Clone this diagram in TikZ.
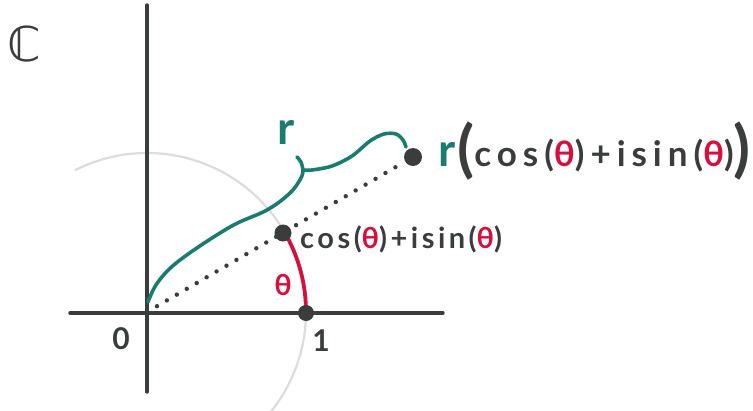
\documentclass[tikz,border=0pt]{standalone}
\usepackage{fontspec}
\setmainfont{Lato}
\newfontfamily\hand[LetterSpace=12,BoldFont={Lato Bold}]{Lato}
\newfontfamily\handwide[LetterSpace=17,BoldFont={Lato Bold}]{Lato}
\newfontfamily\dejavu{DejaVu Sans}
\definecolor{ink}{HTML}{3A3D3C}
\definecolor{tealink}{HTML}{1B7B6F}
\definecolor{redink}{HTML}{D4103E}
\definecolor{faint}{HTML}{DCDCDC}
\newcommand{\thr}{\textcolor{redink}{θ}}
\tikzset{
  axisline/.style={ink, line width=3.4pt, line cap=round},
  dotpt/.style={circle, fill=ink, inner sep=0pt, minimum size=#1},
  dottedray/.style={ink, line width=4.4pt, line cap=round, dash pattern=on 0pt off 11.5pt},
  bracepath/.style={tealink, line width=3.6pt, line cap=round, line join=round},
  anglearc/.style={redink, line width=3.8pt, line cap=round},
  unitcircle/.style={faint, line width=2.2pt},
  lbl/.style={inner sep=0pt, text=ink, font=\hand\bfseries\fontsize{29}{32}\selectfont}
}
\begin{document}
\begin{tikzpicture}[x=1pt,y=-1pt]
\useasboundingbox (0,0) rectangle (753,410);
\begin{scope}
\clip (0,0) rectangle (753,410);
\draw[unitcircle] plot[domain=-50:117, samples=80, smooth] ({147+159*cos(\x)},{312-159*sin(\x)});
\end{scope}
% axes
\coordinate (xl) at (70,313);
\coordinate (xr) at (443,313);
\coordinate (yt) at (147,5);
\coordinate (yb) at (147,392);
\coordinate (O) at (147,312);
\draw[axisline] (xl) -- (xr);
\draw[axisline] (yt) -- (yb);
% angle arc
\draw[anglearc] plot[domain=1:28, samples=30, smooth] ({147+159*cos(\x)},{312-159*sin(\x)});
% points
\node[dotpt=17pt] (P1) at (283,233) {};
\node[dotpt=18pt] (Pr) at (413,157) {};
\node[dotpt=16pt] (U) at (306,313) {};
% dotted ray
\draw[dottedray] (O) -- (Pr);
% brace
\draw[bracepath] plot[smooth, tension=0.6] coordinates {(148,302) (158,282) (180,260) (230,227) (267,210) (290,193) (301,178) (303,170)};
\draw[bracepath] plot[smooth, tension=0.6] coordinates {(297,157) (301,162) (303,170)};
\draw[bracepath] plot[smooth, tension=0.55] coordinates {(303,170) (312,170) (332,166) (352,156) (370,141) (384,134) (396,134) (403,140) (406,147)};
% labels
\node[inner sep=0pt, text=ink, font=\dejavu\fontsize{48}{50}\selectfont] (C) at (24,44) {ℂ};
\node[inner sep=0pt, text=tealink, font=\hand\bfseries\fontsize{46}{48}\selectfont, anchor=base] (rl) at (286,144) {r};
\node[lbl, anchor=base west] (zlbl) at (300,248) {cos(\thr)+isin(\thr)};
\node[inner sep=0pt, anchor=base west, text=ink] (rzlbl) at (438,166) {\hand\bfseries\fontsize{46}{48}\selectfont\textcolor{tealink}{r}\kern2pt\fontsize{62}{64}\selectfont\raisebox{-4pt}{(}\handwide\bfseries\fontsize{35}{36}\selectfont cos(\thr)+isin(\thr)\hand\bfseries\fontsize{62}{64}\selectfont\raisebox{-4pt}{)}};
\node[inner sep=0pt, text=redink, font=\hand\bfseries\fontsize{29}{30}\selectfont, anchor=base] (th) at (283,295) {θ};
\node[lbl, font=\hand\bfseries\fontsize{30}{32}\selectfont, anchor=base] (zero) at (121,349) {0};
\node[lbl, font=\hand\bfseries\fontsize{30}{32}\selectfont, anchor=base] (one) at (321,351) {1};
\end{tikzpicture}
\end{document}
